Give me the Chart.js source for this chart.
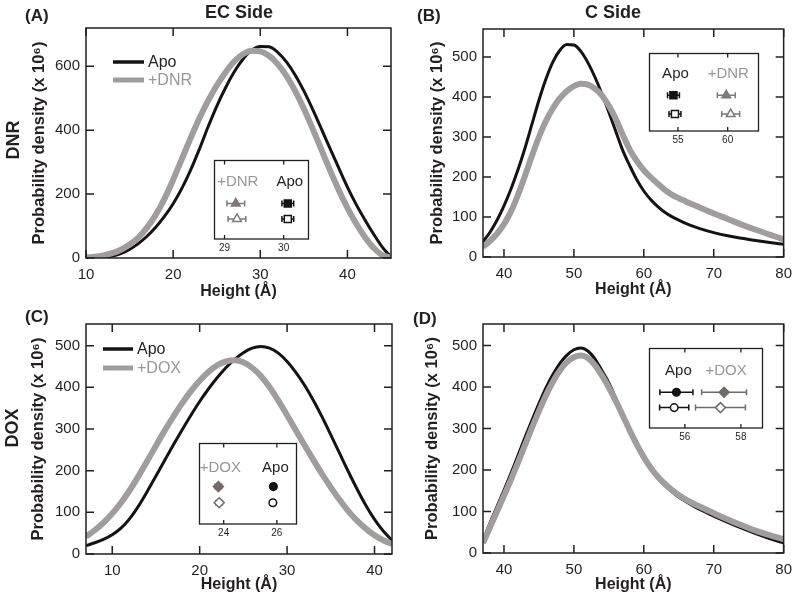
<!DOCTYPE html>
<html><head><meta charset="utf-8">
<script src="https://cdn.jsdelivr.net/npm/chart.js@4.4.0/dist/chart.umd.min.js"></script>
<style>
body{margin:0;background:#fff;width:800px;height:600px;position:relative;overflow:hidden;font-family:"Liberation Sans",Arial,sans-serif;color:#231f20}
canvas{position:absolute}
.lbl{position:absolute;font-weight:bold;white-space:nowrap;line-height:1}
.rot{transform:translate(-50%,-50%) rotate(-90deg)}
</style></head><body>
<canvas id="cA" width="400" height="300" style="left:0;top:0"></canvas>
<canvas id="cB" width="400" height="300" style="left:400px;top:0"></canvas>
<canvas id="cC" width="400" height="300" style="left:0;top:300px"></canvas>
<canvas id="cD" width="400" height="300" style="left:400px;top:300px"></canvas>
<canvas id="iA" width="107" height="99" style="left:208px;top:154px"></canvas>
<canvas id="iB" width="122" height="98" style="left:643px;top:47px"></canvas>
<canvas id="iC" width="110" height="101" style="left:193px;top:437px"></canvas>
<canvas id="iD" width="126" height="100" style="left:643px;top:342px"></canvas>
<div class="lbl" style="left:25px;top:7px;font-size:17px">(A)</div>
<div class="lbl" style="left:417px;top:7px;font-size:17px">(B)</div>
<div class="lbl" style="left:25px;top:308px;font-size:17px">(C)</div>
<div class="lbl" style="left:413px;top:310px;font-size:17px">(D)</div>
<div class="lbl" style="left:139px;top:3px;width:200px;text-align:center;font-size:18px">EC Side</div>
<div class="lbl" style="left:513px;top:3px;width:200px;text-align:center;font-size:18px">C Side</div>
<div class="lbl rot" style="left:13px;top:140px;font-size:18px">DNR</div>
<div class="lbl rot" style="left:12px;top:428px;font-size:18px">DOX</div>
<script>
// ---------- data ----------
const xA = [10,11,12,13,14,15,16,17,18,19,20,21,22,23,24,25,26,27,28,29,30,31,32,33,34,35,36,37,38,39,40,41,42,43,44,45];
const apoA = [0,1,3,6,14,27,45,68,96,130,170,218,275,340,410,475,532,582,622,650,662,661,644,614,573,523,466,405,343,282,222,168,120,75,34,3];
const dnrA = [2,4,8,15,26,42,64,95,135,185,245,310,375,437,492,540,581,615,638,649,647,633,607,570,523,467,405,340,275,213,157,108,66,32,9,1];

const xB = [37,38,39,40,41,42,43,44,45,46,47,48,49,50,51,52,53,54,55,56,57,58,59,60,61,62,63,64,65,66,67,68,70,72,74,76,78,80];
const apoB = [38,62,92,128,170,218,272,332,392,445,488,517,531,530,514,486,450,408,362,314,266,228,193,165,143,126,112,101,92,84,77,71,61,53,47,41,36,32];
const dnrB = [25,40,58,82,114,155,203,253,300,340,372,397,415,427,433,431,421,404,378,345,305,268,240,217,199,183,168,156,147,139,131,124,109,95,81,68,56,44];

const xC = [7,8,9,10,11,12,13,14,15,16,17,18,19,20,21,22,23,24,25,26,27,28,29,30,31,32,33,34,35,36,37,38,39,40,41,42];
const apoC = [20,27,35,46,62,85,115,150,187,225,262,298,333,366,396,423,447,467,483,494,498,494,482,462,436,405,369,329,286,242,198,156,117,83,55,33];
const doxC = [42,57,75,97,123,153,187,223,260,296,330,362,391,416,437,453,462,465,460,447,427,400,368,333,297,261,226,192,160,130,103,80,61,45,33,24];

const xD = [37,38,39,40,41,42,43,44,45,46,47,48,49,50,51,52,53,54,55,56,57,58,59,60,61,62,63,64,65,66,67,68,70,72,74,76,78,80];
const apoD = [30,72,112,151,192,235,278,320,360,398,430,457,477,490,494,487,468,440,410,373,334,296,261,230,203,181,163,148,135,124,114,105,89,74,60,47,35,24];
const doxD = [24,62,100,138,177,218,260,302,342,380,413,440,460,472,476,470,453,428,399,366,331,295,261,231,205,184,167,152,140,129,120,112,96,81,67,54,43,33];

const xTicksA = [10,20,30,40], yTicksA = [0,200,400,600];
const xTicksB = [40,50,60,70,80], yTicksB = [0,100,200,300,400,500];
const xTicksC = [10,20,30,40], yTicksC = [0,100,200,300,400,500];
const xTicksD = [40,50,60,70,80], yTicksD = [0,100,200,300,400,500];

// inset data (centre, half-width of error bar) for row 1 and row 2
const insetA_labels = ['+DNR','Apo'];
const insetA_dnr = [29.19, 29.21], insetA_dnrErr = [0.15, 0.15];
const insetA_apo = [30.07, 30.07], insetA_apoErr = [0.10, 0.10];
const insetA_ticks = [29, 30];

const insetB_labels = ['Apo','+DNR'];
const insetB_apo = [54.55, 54.7], insetB_apoErr = [0.6, 0.6];
const insetB_dnr = [59.86, 60.3], insetB_dnrErr = [0.9, 0.9];
const insetB_ticks = [55, 60];

const insetC_labels = ['+DOX','Apo'];
const insetC_dox = [23.8, 23.83], insetC_doxErr = [0.12, 0.12];
const insetC_apo = [25.87, 25.85], insetC_apoErr = [0.08, 0.08];
const insetC_ticks = [24, 26];

const insetD_labels = ['Apo','+DOX'];
const insetD_apo = [55.7, 55.62], insetD_apoErr = [0.59, 0.52];
const insetD_dox = [57.4, 57.27], insetD_doxErr = [0.8, 0.89];
const insetD_ticks = [56, 58];

// ---------- styling ----------
const FONT = '"Liberation Sans", Arial, sans-serif';
const INK = '#231f20';
const BLACK = '#141212';
const GREY = '#a19d9d';
const GREYTXT = '#9a9696';

const framePlugin = {
  id: 'frame',
  beforeDatasetsDraw(chart, args, o) {
    if (!o.fill) return;
    const {ctx, chartArea: a} = chart;
    ctx.save(); ctx.fillStyle = '#fff';
    ctx.fillRect(a.left, a.top, a.right - a.left, a.bottom - a.top);
    ctx.restore();
  },
  afterDraw(chart, args, o) {
    const {ctx, chartArea: a, scales: {x, y}} = chart;
    ctx.save();
    ctx.strokeStyle = INK; ctx.lineWidth = o.lw;
    ctx.strokeRect(a.left, a.top, a.right - a.left, a.bottom - a.top);
    const L = o.len;
    ctx.beginPath();
    x.ticks.forEach(t => {
      const p = x.getPixelForValue(t.value);
      ctx.moveTo(p, a.bottom); ctx.lineTo(p, a.bottom - L);
      ctx.moveTo(p, a.top); ctx.lineTo(p, a.top + L);
    });
    if (o.yTicks) {
      y.ticks.forEach(t => {
        const p = y.getPixelForValue(t.value);
        ctx.moveTo(a.left, p); ctx.lineTo(a.left + L, p);
        ctx.moveTo(a.right, p); ctx.lineTo(a.right - L, p);
      });
    }
    ctx.stroke();
    ctx.restore();
  }
};

const innerLegend = {
  id: 'innerLegend',
  afterDatasetsDraw(chart, args, o) {
    if (!o.show) return;
    const {ctx, chartArea: a} = chart;
    chart.data.datasets.forEach((ds, i) => {
      const y = a.top + o.y + i * o.gap;
      const x0 = a.left + o.x;
      ctx.save();
      ctx.strokeStyle = ds.borderColor; ctx.lineWidth = o.widths[i];
      ctx.beginPath(); ctx.moveTo(x0, y); ctx.lineTo(x0 + o.len, y); ctx.stroke();
      ctx.fillStyle = o.colors[i];
      ctx.font = '16px ' + FONT;
      ctx.textBaseline = 'middle';
      ctx.fillText(ds.label, x0 + o.len + 4, y + 1);
      ctx.restore();
    });
  }
};

function mainChart(id, xs, apo, other, otherLabel, xr, yr, xt, yt, g, leg) {
  return new Chart(document.getElementById(id), {
    type: 'line',
    data: {
      datasets: [
        {label: 'Apo', data: xs.map((x, i) => ({x, y: apo[i]})), borderColor: BLACK, borderWidth: 3,
         order: 1, pointRadius: 0, cubicInterpolationMode: 'monotone', fill: false, clip: 0},
        {label: otherLabel, data: xs.map((x, i) => ({x, y: other[i]})), borderColor: GREY, borderWidth: 6,
         order: 0, pointRadius: 0, cubicInterpolationMode: 'monotone', fill: false, clip: 0}
      ]
    },
    options: {
      responsive: false, animation: false, events: [],
      layout: {padding: {left: 0, top: g.padT, right: g.padR, bottom: 0}},
      plugins: {
        legend: {display: false}, tooltip: {enabled: false},
        frame: {lw: 1.5, len: 8, yTicks: true},
        innerLegend: leg
      },
      scales: {
        x: {
          type: 'linear', min: xr[0], max: xr[1],
          afterBuildTicks: s => { s.ticks = xt.map(v => ({value: v})); },
          afterFit: s => { s.height = g.xH; },
          grid: {display: false, drawTicks: false}, border: {display: false},
          ticks: {font: {family: FONT, size: 15}, color: INK, padding: 8, maxRotation: 0, autoSkip: false},
          title: {display: true, text: 'Height (Å)', color: INK,
                  font: {family: FONT, size: 16, weight: 'bold', lineHeight: 1},
                  padding: {top: 0, bottom: g.xTitlePad}}
        },
        y: {
          type: 'linear', min: yr[0], max: yr[1],
          afterBuildTicks: s => { s.ticks = yt.map(v => ({value: v})); },
          afterFit: s => { s.width = g.yW; },
          grid: {display: false, drawTicks: false}, border: {display: false},
          ticks: {font: {family: FONT, size: 15}, color: INK, padding: 6, autoSkip: false},
          title: {display: true, text: 'Probability density (x 10⁶)', color: INK,
                  font: {family: FONT, size: 16.5, weight: 'bold', lineHeight: 1},
                  padding: {top: g.yTitlePad, bottom: 0}}
        }
      }
    },
    plugins: [framePlugin, innerLegend]
  });
}

const errPlugin = {
  id: 'errbars',
  beforeDatasetsDraw(chart) {
    const {ctx, scales: {x}} = chart;
    chart.data.datasets.forEach((ds, i) => {
      const el = chart.getDatasetMeta(i).data[0];
      const p = ds.data[0];
      const x1 = x.getPixelForValue(p.x - ds.err), x2 = x.getPixelForValue(p.x + ds.err);
      ctx.save(); ctx.strokeStyle = ds.borderColor; ctx.lineWidth = 1.5;
      ctx.beginPath();
      ctx.moveTo(x1, el.y); ctx.lineTo(x2, el.y);
      ctx.moveTo(x1, el.y - 3); ctx.lineTo(x1, el.y + 3);
      ctx.moveTo(x2, el.y - 3); ctx.lineTo(x2, el.y + 3);
      ctx.stroke(); ctx.restore();
    });
  },
  afterDraw(chart, args, o) {
    const {ctx, scales: {x, y}} = chart;
    o.headers.forEach(h => {
      ctx.save();
      ctx.fillStyle = h.color; ctx.font = '15px ' + FONT;
      ctx.textAlign = 'center'; ctx.textBaseline = 'middle';
      ctx.fillText(h.text, x.getPixelForValue(h.x) + 2, y.getPixelForValue(o.headerY));
      ctx.restore();
    });
  }
};

function ptSet(vals, errs, style, color, radius) {
  return vals.map((v, i) => ({
    data: [{x: v, y: 2 - i}], err: errs[i], pointStyle: style,
    pointRadius: radius, borderColor: color, borderWidth: 1.5,
    pointBackgroundColor: i === 0 ? color : '#fff', backgroundColor: i === 0 ? color : '#fff',
    pointBorderColor: color, pointBorderWidth: 1.5
  }));
}

function insetChart(id, xr, yr, ticks, datasets, headers, headerY) {
  return new Chart(document.getElementById(id), {
    type: 'scatter',
    data: {datasets},
    options: {
      responsive: false, animation: false, events: [],
      layout: {padding: 0},
      plugins: {legend: {display: false}, tooltip: {enabled: false},
                frame: {lw: 1.3, len: 4, yTicks: false, fill: true},
                errbars: {headers, headerY}},
      scales: {
        x: {type: 'linear', min: xr[0], max: xr[1],
            afterBuildTicks: s => { s.ticks = ticks.map(v => ({value: v})); },
            afterFit: s => { s.height = 14; },
            grid: {display: false, drawTicks: false}, border: {display: false},
            ticks: {font: {family: FONT, size: 10}, color: INK, padding: 3, maxRotation: 0, autoSkip: false}},
        y: {type: 'linear', min: yr[0], max: yr[1], display: false}
      }
    },
    plugins: [framePlugin, errPlugin]
  });
}

// ---------- main panels ----------
mainChart('cA', xA, apoA, dnrA, '+DNR', [10, 45], [0, 720], xTicksA, yTicksA,
  {yW: 86, padR: 9, padT: 28, xH: 42, xTitlePad: 0, yTitlePad: 31},
  {show: true, x: 27, y: 34, gap: 18, len: 31, widths: [3.5, 5], colors: [INK, GREYTXT]});
mainChart('cB', xB, apoB, dnrB, '+DNR', [37, 80], [0, 570], xTicksB, yTicksB,
  {yW: 83, padR: 12, padT: 29, xH: 43, xTitlePad: 2, yTitlePad: 29},
  {show: false});
mainChart('cC', xC, apoC, doxC, '+DOX', [7, 42], [0, 552], xTicksC, yTicksC,
  {yW: 86, padR: 8, padT: 24, xH: 46, xTitlePad: 7, yTitlePad: 30},
  {show: true, x: 17, y: 25, gap: 19, len: 30, widths: [3.5, 5], colors: [INK, GREYTXT]});
mainChart('cD', xD, apoD, doxD, '+DOX', [37, 80], [0, 552], xTicksD, yTicksD,
  {yW: 83, padR: 12, padT: 24, xH: 47, xTitlePad: 7, yTitlePad: 24},
  {show: false});

// ---------- insets ----------
const G1 = '#807878';
insetChart('iA', [28.83, 30.42], [-0.31, 4.81], insetA_ticks,
  [...ptSet(insetA_dnr, insetA_dnrErr, 'triangle', G1, 5), ...ptSet(insetA_apo, insetA_apoErr, 'rect', BLACK, 5)],
  [{text: insetA_labels[0], x: insetA_dnr[0], color: GREYTXT}, {text: insetA_labels[1], x: insetA_apo[0], color: INK}], 3.4);
insetChart('iB', [52.14, 63.1], [0.10, 4.22], insetB_ticks,
  [...ptSet(insetB_apo, insetB_apoErr, 'rect', BLACK, 5), ...ptSet(insetB_dnr, insetB_dnrErr, 'triangle', G1, 5)],
  [{text: insetB_labels[0], x: insetB_apo[0], color: INK}, {text: insetB_labels[1], x: insetB_dnr[0], color: GREYTXT}], 3.13);
insetChart('iC', [23.09, 26.74], [-0.31, 4.66], insetC_ticks,
  [...ptSet(insetC_dox, insetC_doxErr, 'rectRot', '#736a6a', 5), ...ptSet(insetC_apo, insetC_apoErr, 'circle', BLACK, 3.8)],
  [{text: insetC_labels[0], x: insetC_dox[0], color: GREYTXT}, {text: insetC_labels[1], x: insetC_apo[0], color: INK}], 3.15);
insetChart('iD', [54.74, 58.77], [-0.32, 4.83], insetD_ticks,
  [...ptSet(insetD_apo, insetD_apoErr, 'circle', BLACK, 3.8), ...ptSet(insetD_dox, insetD_doxErr, 'rectRot', '#736a6a', 5)],
  [{text: insetD_labels[0], x: insetD_apo[0], color: INK}, {text: insetD_labels[1], x: insetD_dox[0], color: GREYTXT}], 3.4);
</script>
</body></html>
